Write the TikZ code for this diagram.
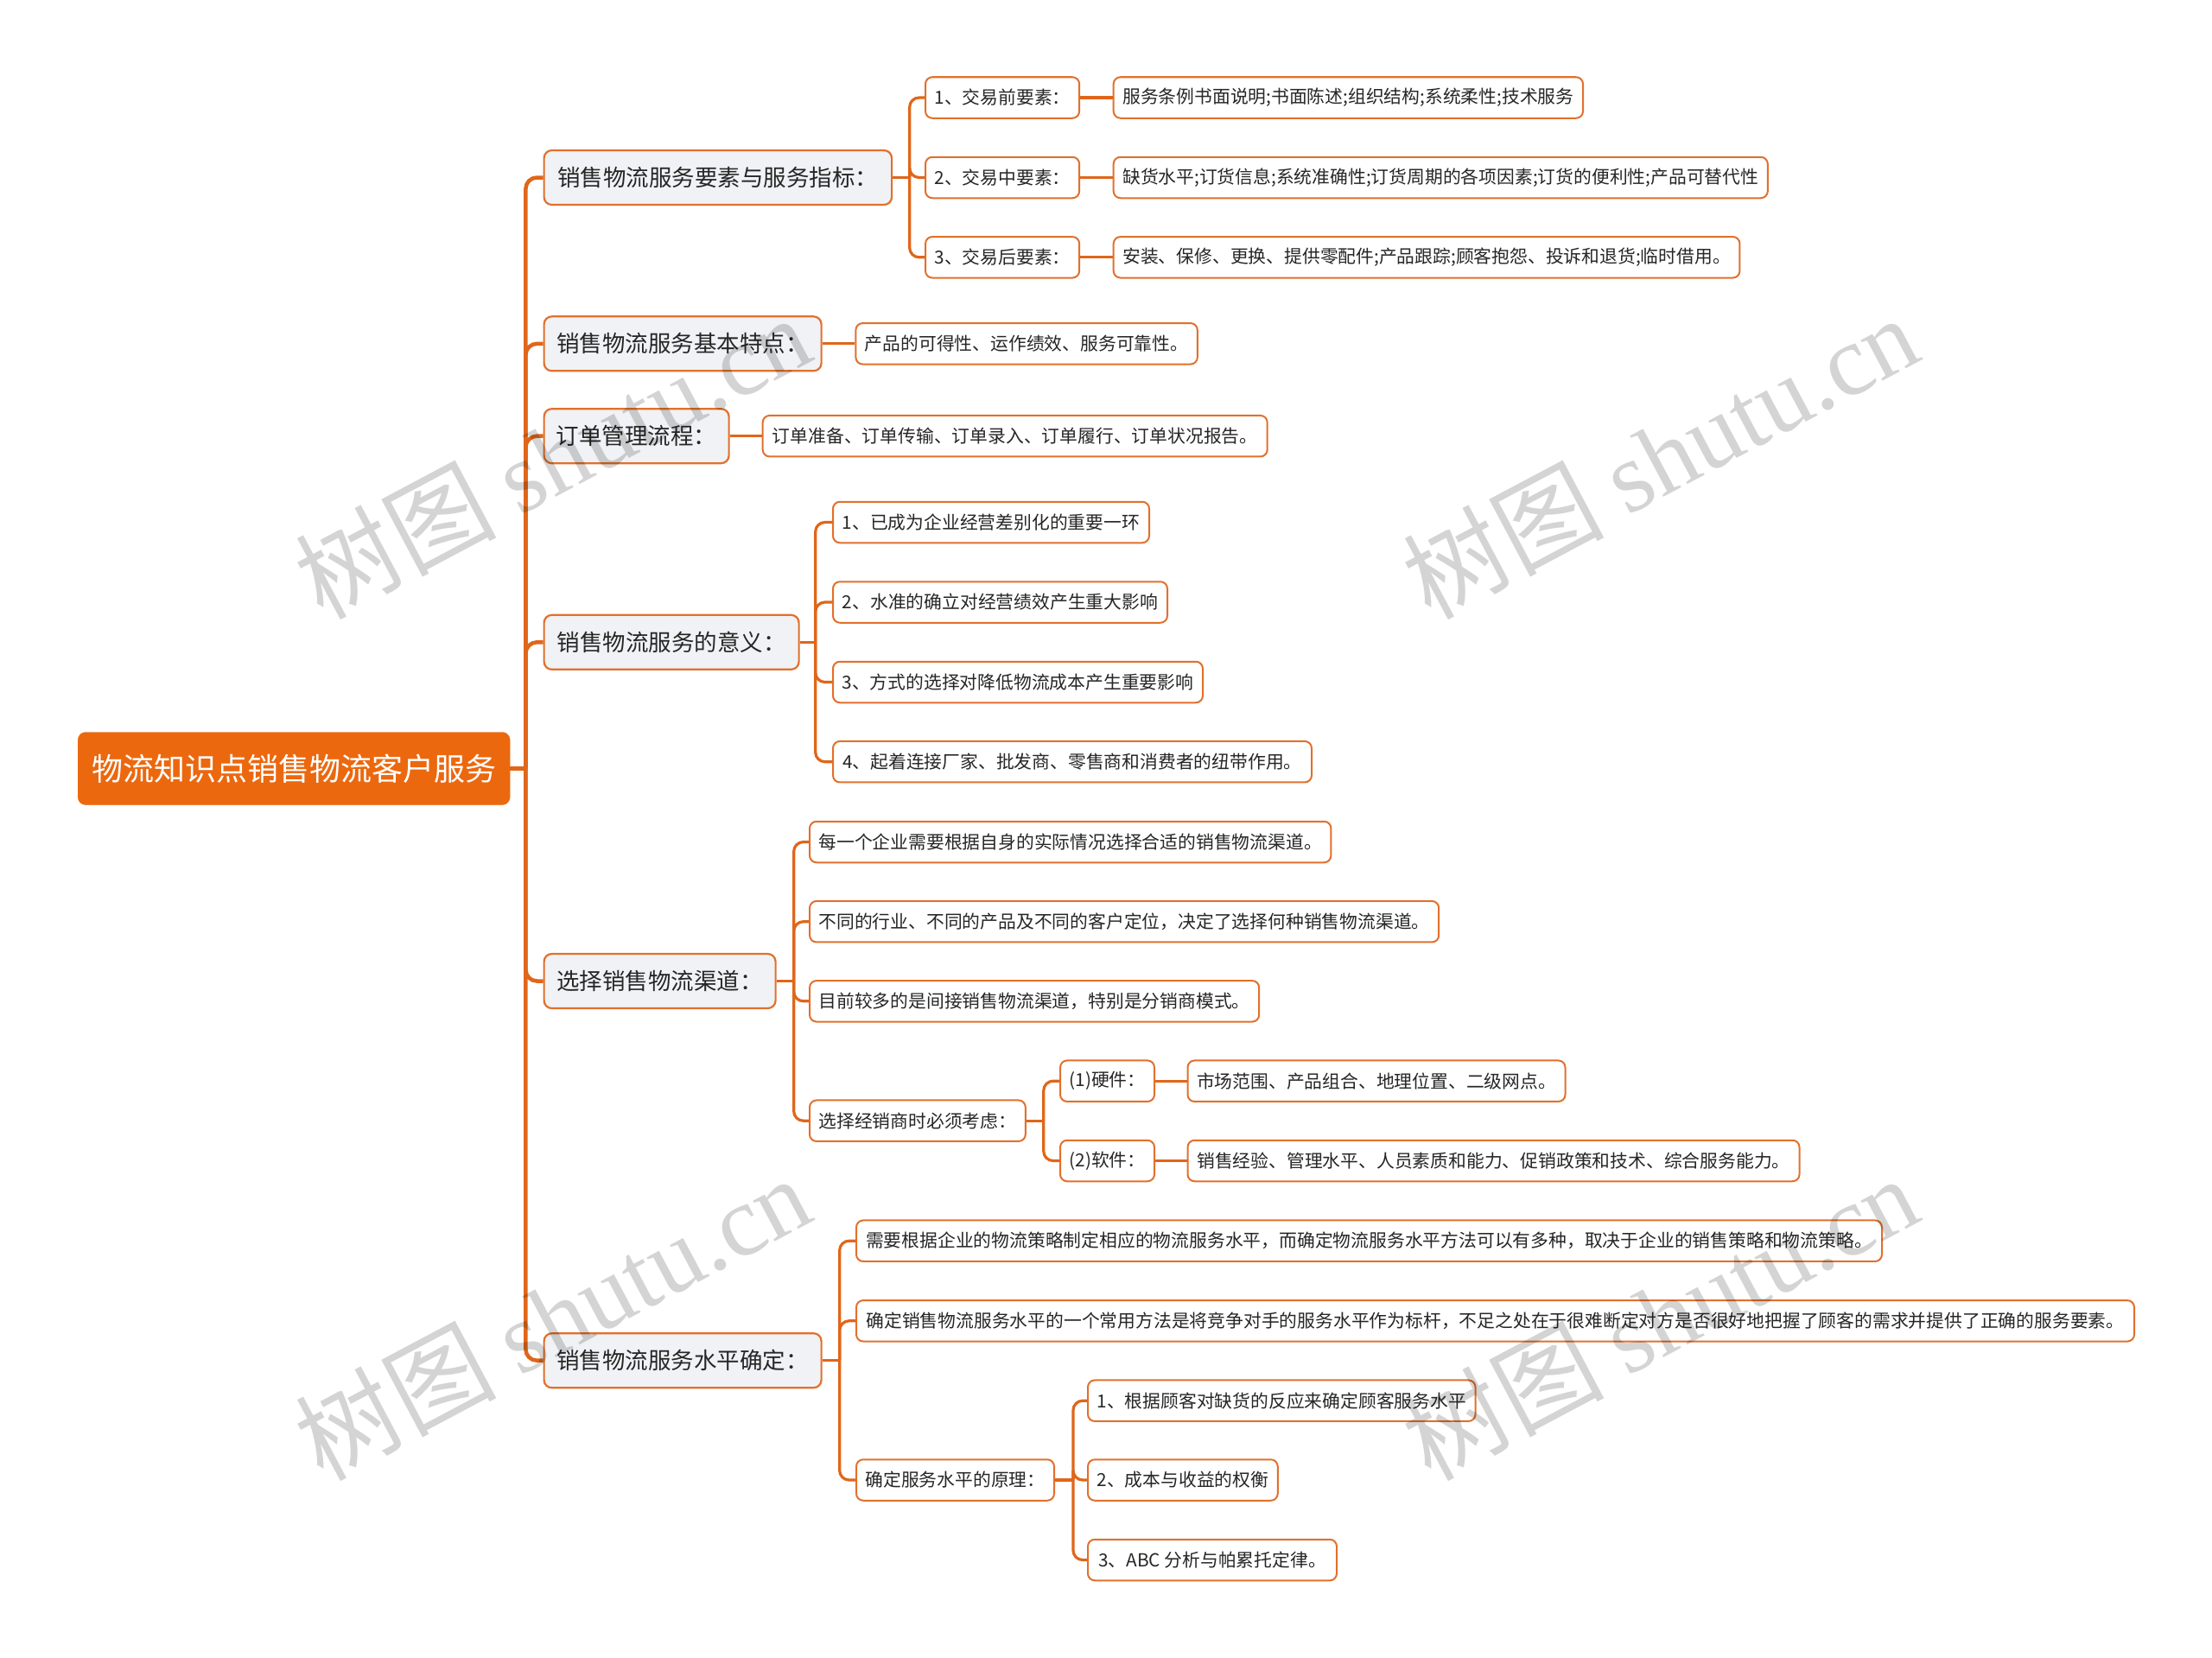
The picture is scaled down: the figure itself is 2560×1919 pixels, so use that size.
\documentclass[tikz,border=0pt]{standalone}
\usepackage{fontspec}
\setmainfont{Noto Sans CJK SC}
\newfontfamily\wmlatin{Liberation Serif}
\newfontfamily\wmcjk{Noto Sans CJK SC}
\usetikzlibrary{calc}
\definecolor{lineC}{RGB}{224,102,26}
\definecolor{borderC}{RGB}{226,112,44}
\definecolor{rootC}{RGB}{236,104,14}
\definecolor{lvlC}{RGB}{240,242,245}
\definecolor{txtC}{RGB}{38,38,38}
\tikzset{
  rootbox/.style={rectangle, rounded corners=9, fill=rootC, draw=rootC, text=white,
    font=\fontsize{36}{40}\selectfont, minimum height=84, inner xsep=16, inner ysep=0, anchor=west},
  lvbox/.style={rectangle, rounded corners=9, fill=lvlC, draw=borderC, line width=2.2, text=txtC,
    font=\fontsize{26.5}{30}\selectfont, minimum height=63, inner xsep=13, inner ysep=0, anchor=west},
  leafbox/.style={rectangle, rounded corners=8, fill=white, draw=borderC, line width=2, text=txtC,
    font=\fontsize{20.8}{24}\selectfont, minimum height=47.5, inner xsep=10.5, inner ysep=0, anchor=west},
  connline/.style={draw=lineC, line width=3.2, rounded corners=11},
  trunkline/.style={draw=lineC, line width=4.5, rounded corners=13},
  wmark/.style={text=black, text opacity=0.17, font=\fontsize{116}{124}\selectfont, inner sep=0, rotate=28}
}
\begin{document}
\begin{tikzpicture}[x=1pt,y=-1pt]
\fill[white] (0,0) rectangle (2560,1919);
\useasboundingbox (0,0) rectangle (2560,1919);

% root
\node[rootbox, minimum width=500] (root) at (90,889.5) {物流知识点销售物流客户服务};

% level 1
\node[lvbox, minimum width=402.5] (A) at (628.5,205.5) {销售物流服务要素与服务指标：};
\node[lvbox, minimum width=321] (B) at (628.5,397.8) {销售物流服务基本特点：};
\node[lvbox, minimum width=214] (C) at (628.5,504.7) {订单管理流程：};
\node[lvbox, minimum width=295] (D) at (628.5,743.3) {销售物流服务的意义：};
\node[lvbox, minimum width=268] (E) at (628.5,1135.5) {选择销售物流渠道：};
\node[lvbox, minimum width=321] (F) at (628.5,1574.7) {销售物流服务水平确定：};

% A children
\node[leafbox, minimum width=177] (A1) at (1070,113) {1、交易前要素：};
\node[leafbox, minimum width=177] (A2) at (1070,205.5) {2、交易中要素：};
\node[leafbox, minimum width=177] (A3) at (1070,297.8) {3、交易后要素：};
\node[leafbox, minimum width=540] (A1L) at (1287.7,113) {服务条例书面说明;书面陈述;组织结构;系统柔性;技术服务};
\node[leafbox, minimum width=753] (A2L) at (1287.7,205.5) {缺货水平;订货信息;系统准确性;订货周期的各项因素;订货的便利性;产品可替代性};
\node[leafbox, minimum width=723] (A3L) at (1287.7,297.8) {安装、保修、更换、提供零配件;产品跟踪;顾客抱怨、投诉和退货;临时借用。};

% B, C leaves
\node[leafbox, minimum width=395] (BL) at (989.4,397.8) {产品的可得性、运作绩效、服务可靠性。};
\node[leafbox, minimum width=584] (CL) at (881.7,504.7) {订单准备、订单传输、订单录入、订单履行、订单状况报告。};

% D children
\node[leafbox, minimum width=366] (D1) at (963,604.5) {1、已成为企业经营差别化的重要一环};
\node[leafbox, minimum width=387] (D2) at (963,697) {2、水准的确立对经营绩效产生重大影响};
\node[leafbox, minimum width=428] (D3) at (963,789.5) {3、方式的选择对降低物流成本产生重要影响};
\node[leafbox, minimum width=554] (D4) at (963,881.7) {4、起着连接厂家、批发商、零售商和消费者的纽带作用。};

% E children
\node[leafbox, minimum width=602] (E1) at (936,974.5) {每一个企业需要根据自身的实际情况选择合适的销售物流渠道。};
\node[leafbox, minimum width=728] (E2) at (936,1066.7) {不同的行业、不同的产品及不同的客户定位，决定了选择何种销售物流渠道。};
\node[leafbox, minimum width=519] (E3) at (936,1158.8) {目前较多的是间接销售物流渠道，特别是分销商模式。};
\node[leafbox, minimum width=248.5] (E4) at (936,1297.2) {选择经销商时必须考虑：};
\node[leafbox, minimum width=107] (H1) at (1226,1251.2) {(1)硬件：};
\node[leafbox, minimum width=107] (H2) at (1226,1343.5) {(2)软件：};
\node[leafbox, minimum width=436] (H1L) at (1373.5,1251.2) {市场范围、产品组合、地理位置、二级网点。};
\node[leafbox, minimum width=708] (H2L) at (1373.5,1343.5) {销售经验、管理水平、人员素质和能力、促销政策和技术、综合服务能力。};

% F children
\node[leafbox, minimum width=1187] (F1) at (990,1436.2) {需要根据企业的物流策略制定相应的物流服务水平，而确定物流服务水平方法可以有多种，取决于企业的销售策略和物流策略。};
\node[leafbox, minimum width=1479] (F2) at (990,1528.8) {确定销售物流服务水平的一个常用方法是将竞争对手的服务水平作为标杆，不足之处在于很难断定对方是否很好地把握了顾客的需求并提供了正确的服务要素。};
\node[leafbox, minimum width=226.5] (F3) at (990,1713) {确定服务水平的原理：};
\node[leafbox, minimum width=448] (P1) at (1258,1621.2) {1、根据顾客对缺货的反应来确定顾客服务水平};
\node[leafbox, minimum width=219] (P2) at (1258,1713) {2、成本与收益的权衡};
\node[leafbox, minimum width=288] (P3) at (1258,1805.5) {3、ABC 分析与帕累托定律。};

% trunk
\coordinate (tr) at ($(root.east)+(18,0)$);
\draw[trunkline] (root.east) -- (tr);
\foreach \n in {A,B,C,D,E,F} { \draw[trunkline] (tr) |- (\n.west); }

% brackets
\coordinate (bA) at ($(A.east)+(19.5,0)$);
\draw[connline] (A.east) -- (bA);
\foreach \n in {A1,A2,A3} { \draw[connline] (bA) |- (\n.west); }
\draw[connline] (A1.east) -- (A1L.west);
\draw[connline] (A2.east) -- (A2L.west);
\draw[connline] (A3.east) -- (A3L.west);

\draw[connline] (B.east) -- (BL.west);
\draw[connline] (C.east) -- (CL.west);

\coordinate (bD) at ($(D.east)+(18,0)$);
\draw[connline] (D.east) -- (bD);
\foreach \n in {D1,D2,D3,D4} { \draw[connline] (bD) |- (\n.west); }

\coordinate (bE) at ($(E.east)+(20,0)$);
\draw[connline] (E.east) -- (bE);
\foreach \n in {E1,E2,E3,E4} { \draw[connline] (bE) |- (\n.west); }

\coordinate (bE4) at ($(E4.east)+(20,0)$);
\draw[connline] (E4.east) -- (bE4);
\foreach \n in {H1,H2} { \draw[connline] (bE4) |- (\n.west); }
\draw[connline] (H1.east) -- (H1L.west);
\draw[connline] (H2.east) -- (H2L.west);

\coordinate (bF) at ($(F.east)+(20,0)$);
\draw[connline] (F.east) -- (bF);
\foreach \n in {F1,F2,F3} { \draw[connline] (bF) |- (\n.west); }

\coordinate (bF3) at ($(F3.east)+(21,0)$);
\draw[connline] (F3.east) -- (bF3);
\foreach \n in {P1,P2,P3} { \draw[connline] (bF3) |- (\n.west); }

% watermarks
\node[wmark] (w1) at (639,528) {\wmcjk 树图 \wmlatin shutu.cn};
\node[wmark] (w2) at (1921,528) {\wmcjk 树图 \wmlatin shutu.cn};
\node[wmark] (w3) at (639,1524) {\wmcjk 树图 \wmlatin shutu.cn};
\node[wmark] (w4) at (1921,1524) {\wmcjk 树图 \wmlatin shutu.cn};
\end{tikzpicture}
\end{document}
